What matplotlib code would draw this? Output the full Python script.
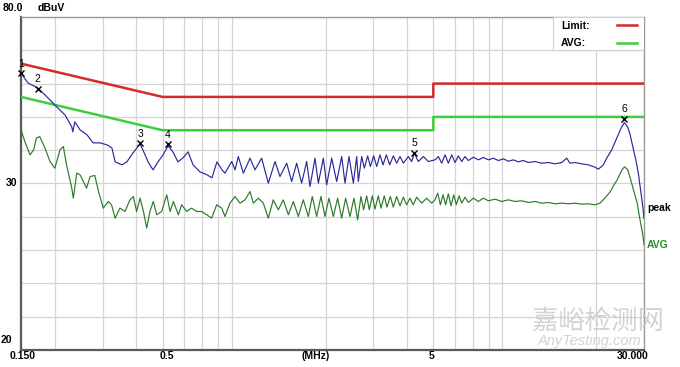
import matplotlib
matplotlib.use("Agg")
import matplotlib.pyplot as plt
from matplotlib.patches import Rectangle

plt.rcParams['font.family'] = ['Liberation Sans', 'DejaVu Sans']

# limit lines (dBuV)
limit_f = [0.15, 0.5, 5.0, 5.0, 30.0]
limit_qp = [66, 56, 56, 60, 60]
limit_avg = [56, 46, 46, 50, 50]

# peak trace (MHz, dBuV)
peak_f = [0.150, 0.159, 0.173, 0.184, 0.195, 0.205, 0.218, 0.231, 0.233, 0.237,
          0.248, 0.263, 0.277, 0.294, 0.312, 0.325, 0.334, 0.354, 0.369, 0.389,
          0.413, 0.431, 0.442, 0.461, 0.481, 0.502, 0.524, 0.546, 0.570, 0.595,
          0.621, 0.648, 0.687, 0.730, 0.761, 0.794, 0.829,
          0.850, 0.900, 0.926, 0.952, 0.994, 1.052, 1.097, 1.161, 1.229, 1.301,
          1.357, 1.437, 1.499, 1.564, 1.632, 1.703, 1.752, 1.828, 1.881, 1.962,
          2.019, 2.107, 2.198, 2.294, 2.359, 2.441, 2.533, 2.606, 2.643, 2.719,
          2.781, 2.861, 2.927, 3.011, 3.089, 3.177, 3.260, 3.353, 3.450, 3.558,
          3.661, 3.767, 3.875, 4.043, 4.159, 4.254, 4.401, 4.593, 4.793,
          5.073, 5.219, 5.369, 5.524, 5.682, 5.846, 6.014, 6.187, 6.365, 6.547,
          6.736, 7.029, 7.334, 7.652, 7.984, 8.331, 8.694, 9.071, 9.465, 9.876,
          10.305, 10.753, 11.220, 11.874, 12.566, 13.299, 14.076, 14.897, 15.543,
          15.990, 16.685, 17.659, 18.688, 19.779, 20.348, 21.231, 21.842, 22.790,
          23.781, 24.674, 25.384, 26.1, 26.6, 27.3, 28.0, 28.6, 29.2, 29.7, 30.0]
peak_db = [63.2, 60.2, 58.7, 56.6, 54.5, 52.7, 50.6, 47.0, 45.5, 48.5,
           46.1, 44.6, 42.2, 42.2, 41.6, 40.7, 36.5, 35.6, 36.5, 39.2,
           41.9, 38.6, 36.5, 34.1, 36.5, 38.6, 41.3, 39.5, 36.5, 37.7,
           39.5, 35.6, 33.5, 32.6, 31.7, 36.5, 34.1,
           33.1, 36.6, 34.1, 38.1, 33.1, 37.6, 34.1, 37.6, 30.1, 36.6,
           32.1, 36.1, 30.6, 36.1, 30.1, 36.6, 29.1, 37.6, 30.1, 37.6,
           29.6, 37.6, 30.6, 38.1, 30.1, 38.1, 30.1, 38.1, 30.6, 38.1,
           34.6, 38.3, 35.1, 38.3, 35.1, 38.6, 35.6, 38.6, 35.6, 38.3,
           36.1, 38.1, 36.1, 38.1, 36.6, 39.1, 36.6, 38.1, 36.6,
           37.1, 38.1, 36.1, 38.6, 36.1, 38.6, 36.3, 38.3, 36.6, 38.1,
           36.9, 37.9, 37.1, 37.8, 37.1, 37.6, 36.9, 37.4, 36.7, 37.1,
           36.5, 36.9, 36.3, 36.6, 36.1, 36.3, 35.9, 36.3, 37.6,
           36.1, 36.3, 35.9, 35.6, 34.9, 34.3, 35.6, 37.6, 40.1,
           43.6, 46.6, 48.3, 47.0, 45.0, 41.0, 37.0, 33.0, 27.5, 23.0, 19.5]

# average trace (MHz, dBuV)
avg_f = [0.150, 0.155, 0.162, 0.167, 0.171, 0.176, 0.184, 0.192, 0.200, 0.209,
         0.215, 0.221, 0.231, 0.234, 0.241, 0.248, 0.255, 0.262, 0.270, 0.281,
         0.290, 0.302, 0.315, 0.324, 0.334, 0.348, 0.363, 0.379, 0.390, 0.401,
         0.413, 0.425, 0.437, 0.449, 0.462, 0.476, 0.496, 0.518, 0.533, 0.548,
         0.572, 0.588, 0.614, 0.640, 0.668, 0.697, 0.728, 0.759, 0.792, 0.827,
         0.850, 0.887, 0.926, 0.966, 1.008, 1.052, 1.082, 1.129, 1.178, 1.229,
         1.282, 1.338, 1.396, 1.457, 1.520, 1.586, 1.655, 1.727, 1.786, 1.854,
         1.923, 1.990, 2.059, 2.136, 2.216, 2.294, 2.372, 2.461, 2.546, 2.627,
         2.702, 2.764, 2.836, 2.901, 2.976, 3.044, 3.131, 3.203, 3.295, 3.371,
         3.468, 3.558, 3.661, 3.767, 3.875, 3.985, 4.099, 4.217, 4.338, 4.527,
         4.724, 4.929,
         5.073, 5.189, 5.308, 5.430, 5.554, 5.682, 5.813, 5.946, 6.082, 6.222,
         6.365, 6.547, 6.736, 7.029, 7.334, 7.652, 7.984, 8.450, 8.943, 9.465,
         10.017, 10.601, 11.220, 11.874, 12.566, 13.299, 14.076, 14.897, 15.765,
         16.685, 17.659, 18.688, 19.779, 20.638, 21.5, 22.5, 23.2, 23.9, 24.5,
         24.9, 25.4, 26.1, 26.6, 27.3, 28.3, 29.0, 29.7, 30.0]
avg_db = [46.1, 42.6, 38.6, 40.1, 43.6, 44.1, 40.6, 36.6, 34.6, 40.1,
          41.1, 35.6, 28.6, 25.6, 33.1, 32.6, 30.6, 28.6, 32.1, 32.4,
          27.6, 22.6, 24.6, 23.6, 19.6, 22.6, 21.6, 25.1, 26.1, 21.6,
          25.6, 21.6, 16.6, 21.6, 24.6, 20.6, 21.6, 26.6, 21.6, 24.6,
          20.6, 23.6, 21.6, 22.6, 21.6, 21.6, 20.6, 19.6, 23.6, 22.6,
          20.1, 24.1, 26.1, 24.1, 25.1, 27.6, 24.1, 25.6, 24.1, 19.6,
          25.1, 22.1, 25.1, 20.6, 24.6, 20.1, 25.1, 20.1, 26.1, 20.1,
          26.1, 20.1, 25.6, 20.1, 25.6, 19.6, 25.6, 20.1, 25.6, 19.1,
          26.1, 22.1, 26.3, 22.1, 26.3, 22.3, 26.3, 22.6, 26.3, 22.9,
          26.1, 22.9, 26.1, 23.3, 25.9, 23.6, 25.6, 23.6, 25.9, 24.1,
          25.6, 24.1,
          25.1, 27.1, 23.6, 26.6, 23.6, 26.9, 23.3, 26.6, 23.6, 26.3,
          24.1, 25.9, 24.3, 25.6, 24.6, 25.6, 24.8, 25.3, 24.6, 25.1,
          24.6, 24.8, 24.3, 24.6, 24.1, 24.3, 23.9, 24.1, 23.9,
          24.1, 23.8, 23.9, 23.6, 24.1, 25.6, 27.5, 29.5, 31.1, 33.0,
          34.1, 35.0, 34.2, 32.0, 28.7, 24.2, 19.1, 14.6, 11.6]

# marked peaks
mark_f = [0.150, 0.173, 0.413, 0.524, 4.254, 25.3]
mark_db = [63.2, 58.5, 42.1, 41.9, 39.3, 49.5]
mark_lbl = ['1', '2', '3', '4', '5', '6']

fig = plt.figure(figsize=(6.8, 3.67), dpi=100)
ax = fig.add_axes([21/680, 1-350/367, 623/680, 333/367])

ax.set_xscale('log')
ax.set_xlim(0.15, 30)
ax.set_ylim(-20, 80)
ax.set_yticks(range(-20, 81, 10))
ax.set_xticks([0.15, 0.5, 5, 30])
ax.grid(True, which='both', axis='x', color='#d4d4d4', lw=0.9)
ax.grid(True, which='major', axis='y', color='#d4d4d4', lw=0.9)
ax.tick_params(which='both', length=0, labelleft=False, labelbottom=False)
for s in ['left', 'bottom']:
    ax.spines[s].set_color('#5a5a5a')
    ax.spines[s].set_linewidth(1.6)
for s in ['top', 'right']:
    ax.spines[s].set_color('#9a9a9a')
    ax.spines[s].set_linewidth(1.0)

ax.plot(limit_f, limit_qp, color='#d42a2a', lw=1.8, zorder=3)
ax.plot(limit_f, limit_avg, color='#3ccf3c', lw=1.8, zorder=3)
ax.plot(avg_f, avg_db, color='#2c7a2c', lw=0.85, zorder=4)
ax.plot(peak_f, peak_db, color='#2a2a9c', lw=0.85, zorder=5)

ax.plot(mark_f, mark_db, 'x', color='black', ms=5, mew=1.0, zorder=6, clip_on=False)
for f, d, t in zip(mark_f, mark_db, mark_lbl):
    ax.annotate(t, (f, d), xytext=(0, 3), textcoords='offset points',
                ha='center', va='bottom', fontsize=7.5, color='black', zorder=7)

# legend box
ax.add_patch(Rectangle((553/680, 1-50/367), 91/680, 33/367, transform=fig.transFigure,
                       facecolor='white', edgecolor='#d0d0d0', lw=0.8, zorder=8))
fig.text(561/680, 1-26/367, 'Limit:', fontsize=7.5, fontweight='bold', va='center', zorder=9)
fig.text(561/680, 1-43/367, 'AVG:', fontsize=7.5, fontweight='bold', va='center', zorder=9)
fig.lines.append(plt.Line2D([617/680, 637/680], [1-25/367, 1-25/367],
                            transform=fig.transFigure, color='#d42a2a', lw=1.8, zorder=9))
fig.lines.append(plt.Line2D([617/680, 637/680], [1-43/367, 1-43/367],
                            transform=fig.transFigure, color='#3ccf3c', lw=1.8, zorder=9))

# axis texts
fs = 7.5
fig.text(3/680, 1-8/367, '80.0', fontsize=fs, fontweight='bold', va='center')
fig.text(38/680, 1-8/367, 'dBuV', fontsize=fs, fontweight='bold', va='center')
fig.text(6/680, 1-183/367, '30', fontsize=fs, fontweight='bold', va='center')
fig.text(1/680, 1-340/367, '20', fontsize=fs, fontweight='bold', va='center')
fig.text(23/680, 1-356/367, '0.150', fontsize=fs, fontweight='bold', ha='center', va='center')
fig.text(167/680, 1-356/367, '0.5', fontsize=fs, fontweight='bold', ha='center', va='center')
fig.text(316/680, 1-356/367, '(MHz)', fontsize=fs, fontweight='bold', ha='center', va='center')
fig.text(432/680, 1-356/367, '5', fontsize=fs, fontweight='bold', ha='center', va='center')
fig.text(633/680, 1-356/367, '30.000', fontsize=fs, fontweight='bold', ha='center', va='center')
fig.text(647/680, 1-208/367, 'peak', fontsize=fs, fontweight='bold', va='center')
fig.text(647/680, 1-245/367, 'AVG', fontsize=fs, fontweight='bold', va='center', color='#2c8a2c')

# watermark
fig.text(598/680, 1-321/367, '嘉峪检测网', fontsize=19, color='#c8c8c8', alpha=0.8,
         ha='center', va='center', family=['Noto Sans CJK SC', 'DejaVu Sans'])
fig.text(590/680, 1-341/367, 'AnyTesting.com', fontsize=10.5, color='#c8c8c8', alpha=0.8,
         ha='center', va='center', style='italic')

fig.savefig('out.png', dpi=100)
